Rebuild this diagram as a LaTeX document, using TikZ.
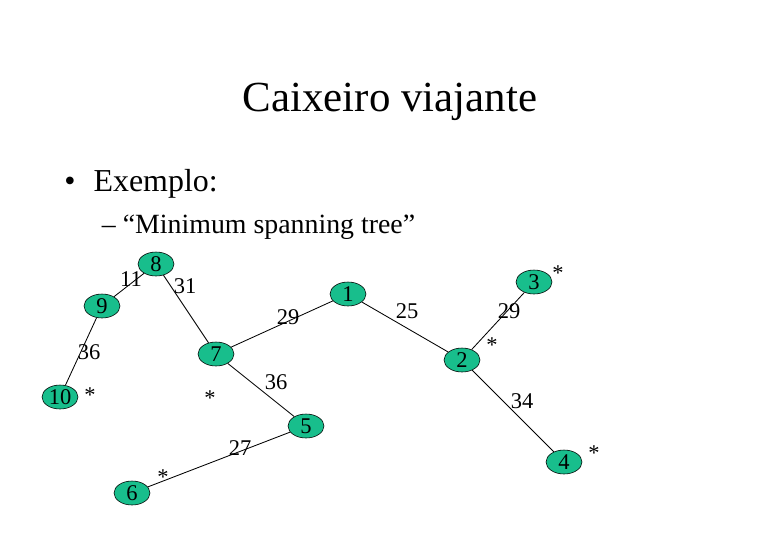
\documentclass[tikz,border=0pt]{standalone}
\usepackage{fontspec}
\setmainfont{Liberation Serif}
\usetikzlibrary{shapes.geometric}

\definecolor{cityfill}{RGB}{24,190,140}
\tikzset{
    city/.style={ellipse, draw, fill=cityfill, minimum width=0.9cm, minimum height=0.6cm,
        inner sep=0pt, font=\fontsize{16}{19}\selectfont},
    weight/.style={inner sep=0pt, font=\fontsize{16}{19}\selectfont},
    mark star/.style={inner sep=0pt, font=\fontsize{16}{19}\selectfont},
    road/.style={line width=0.6pt},
}

\begin{document}
\begin{tikzpicture}[x=0.025cm, y=-0.025cm]

    % 枠
    \useasboundingbox (0,0) rectangle (780,540);

    % 見出し
    \node (title) at (390,111.7) [anchor=base, font=\fontsize{30.5}{36}\selectfont] {Caixeiro viajante};
    \node (bul) at (70,191) [anchor=base, font=\fontsize{22.7}{27}\selectfont] {•};
    \node (ex) at (93.3,191) [anchor=base west, inner sep=0pt, font=\fontsize{22.7}{27}\selectfont] {Exemplo:};
    \node (sub) at (101.7,233) [anchor=base west, inner sep=0pt, font=\fontsize{19.8}{24}\selectfont] {– “Minimum spanning tree”};

    % 都市
    \node [city] (v1) at (348,294) {1};
    \node [city] (v2) at (462,360) {2};
    \node [city] (v3) at (534,282) {3};
    \node [city] (v4) at (564,462) {4};
    \node [city] (v5) at (306,426) {5};
    \node [city] (v6) at (132,493) {6};
    \node [city] (v7) at (216,354) {7};
    \node [city] (v8) at (156,264) {8};
    \node [city] (v9) at (102,306) {9};
    \node [city] (v10) at (60,397) {10};

    % 辺
    \draw [road] (v8) -- (v9);
    \draw [road] (v8) -- (v7);
    \draw [road] (v9) -- (v10);
    \draw [road] (v7) -- (v1);
    \draw [road] (v7) -- (v5);
    \draw [road] (v1) -- (v2);
    \draw [road] (v2) -- (v3);
    \draw [road] (v2) -- (v4);
    \draw [road] (v5) -- (v6);

    % 重み
    \node [weight] (w89) at (131,279) {11};
    \node [weight] (w87) at (185,286) {31};
    \node [weight] (w910) at (89,352) {36};
    \node [weight] (w71) at (288,317) {29};
    \node [weight] (w75) at (276,382) {36};
    \node [weight] (w12) at (407,311) {25};
    \node [weight] (w23) at (509,311) {29};
    \node [weight] (w24) at (522,401) {34};
    \node [weight] (w56) at (240,448) {27};

    % 印
    \node [mark star] (s10) at (90,395.5) {*};
    \node [mark star] (s7) at (210,398) {*};
    \node [mark star] (s6) at (163,477.5) {*};
    \node [mark star] (s3) at (558,273.5) {*};
    \node [mark star] (s2) at (492,345) {*};
    \node [mark star] (s4) at (594,453.5) {*};

\end{tikzpicture}
\end{document}
